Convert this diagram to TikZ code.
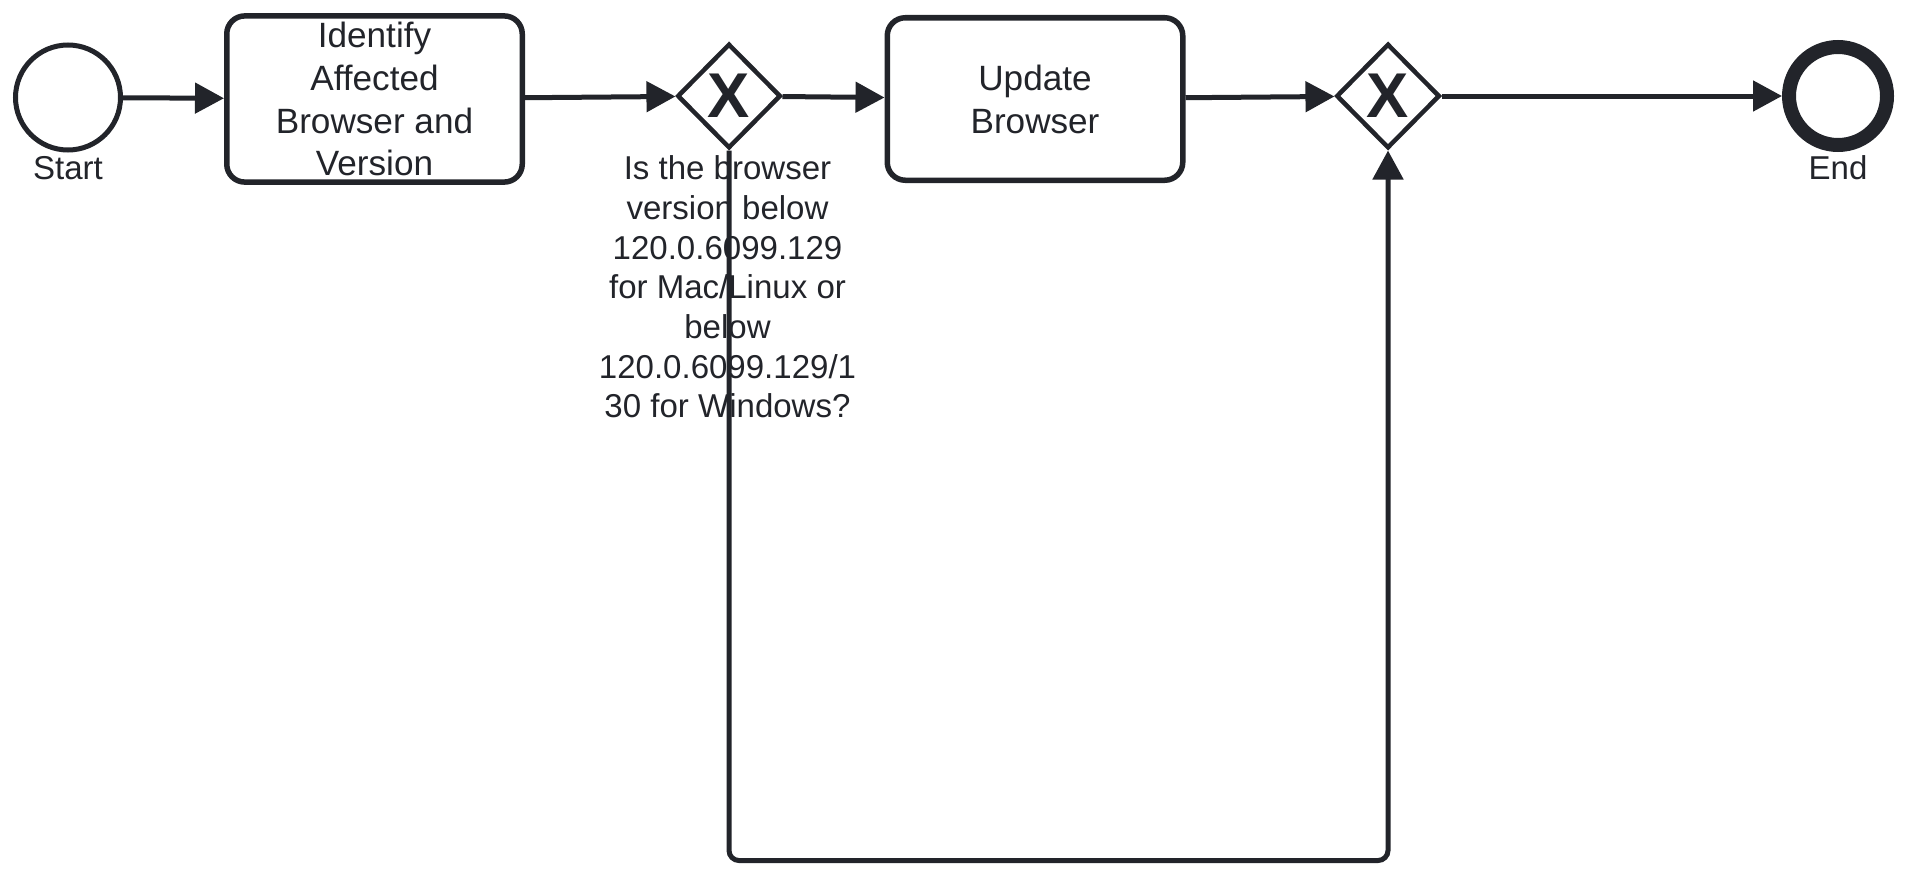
\documentclass[tikz,border=0pt]{standalone}
\usepackage{fontspec}
\setmainfont{Liberation Sans}
\usetikzlibrary{arrows.meta,shapes.geometric}
\definecolor{ink}{HTML}{22242A}
\tikzset{
	event/.style = {circle, draw = ink, line width = 0.1cm, minimum size = 2.1cm, inner sep = 0pt},
	endevent/.style = {circle, draw = ink, line width = 0.28cm, minimum size = 1.96cm, inner sep = 0pt},
	task/.style = {rectangle, rounded corners = 0.36cm, draw = ink, line width = 0.11cm, minimum width = 5.91cm, minimum height = 3.25cm, align = center, text = ink, font = \fontsize{20}{24.4}\selectfont},
	gateway/.style = {diamond, draw = ink, line width = 0.09cm, minimum width = 2.07cm, minimum height = 2.09cm, inner sep = 0pt, text = ink, font = \fontsize{36}{36}\selectfont\bfseries},
	lbl/.style = {text = ink, align = center, font = \fontsize{18.8}{22.6}\selectfont},
	flow/.style = {draw = ink, line width = 0.1cm, -{Triangle[length = 0.58cm, width = 0.6cm]}}
}
\begin{document}
\begin{tikzpicture}
		\useasboundingbox (0, 0) rectangle (38.22, -17.52);
		%%%%%%%%%%%%%
		\node[event] (start) at (1.36, -1.95) {};
		\node[lbl] (startlbl) at (1.36, -3.36) {Start};
		\node[task] (identify) at (7.49, -1.98) {Identify\\Affected\\Browser and\\Version};
		\node[gateway] (check) at (14.58, -1.92) {X};
		\node[lbl] (checklbl) at (14.55, -5.74) {Is the browser\\version below\\120.0.6099.129\\for Mac/Linux or\\below\\120.0.6099.129/1\\30 for Windows?};
		\node[task] (update) at (20.7, -1.98) {Update\\Browser};
		\node[gateway] (merge) at (27.76, -1.92) {X};
		\node[endevent] (finish) at (36.76, -1.92) {};
		\node[lbl] (finishlbl) at (36.76, -3.36) {End};
		\coordinate (loopbot) at (14.58, -17.21);
		%%%%%%%%%%%%%
		\draw[flow] (start) to (identify);
		\draw[flow] (identify) to (check);
		\draw[flow] (check) to (update);
		\draw[flow] (update) to (merge);
		\draw[flow] (merge) to (finish);
		\draw[flow, rounded corners = 0.2cm] (check.south) -- (loopbot) -| (merge.south);
		%%%%%%%%%%%%%
\end{tikzpicture}
\end{document}
